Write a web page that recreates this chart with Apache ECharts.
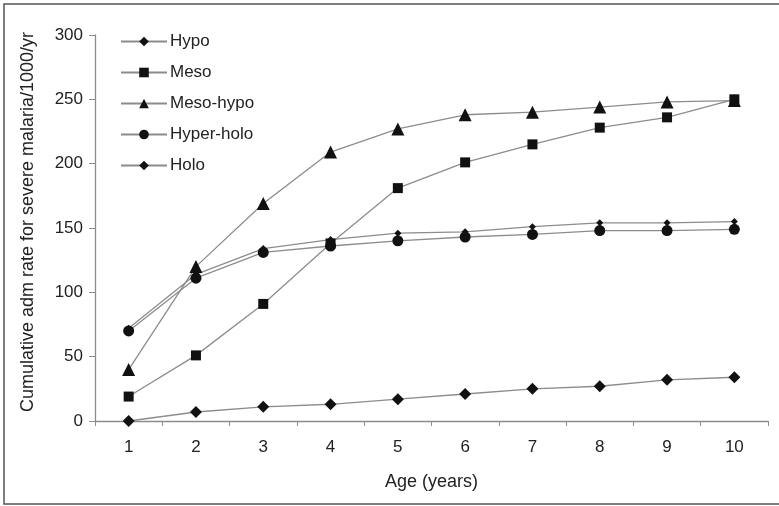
<!DOCTYPE html>
<html>
<head>
<meta charset="utf-8">
<script src="https://cdn.jsdelivr.net/npm/echarts@6/dist/echarts.min.js"></script>
<style>
  html, body { margin: 0; padding: 0; background: #fff; }
  #chart { width: 779px; height: 506px; }
</style>
</head>
<body>
<div id="chart"></div>
<script>
// Age categories (years)
const ages = ['1', '2', '3', '4', '5', '6', '7', '8', '9', '10'];

// Cumulative admission rate for severe malaria per 1000 per year, by endemicity
const hypo      = [0, 7, 11, 13, 17, 21, 25, 27, 32, 34];
const meso      = [19, 51, 91, 138, 181, 201, 215, 228, 236, 250];
const mesoHypo  = [40, 120, 169, 209, 227, 238, 240, 244, 248, 249];
const hyperHolo = [70, 111, 131, 136, 140, 143, 145, 148, 148, 149];
const holo      = [72, 114, 134, 141, 146, 147, 151, 154, 154, 155];

const font = 'Liberation Sans, Arial, sans-serif';
const lineGray = '#8c8c8c';

function makeSeries(name, data, symbol, size) {
  return {
    name: name,
    type: 'line',
    data: data,
    symbol: symbol,
    symbolSize: size,
    showAllSymbol: true,
    lineStyle: { color: lineGray, width: 1.3 },
    itemStyle: { color: '#111', borderWidth: 0 },
    emphasis: { disabled: true },
    animation: false
  };
}

const chart = echarts.init(document.getElementById('chart'));
chart.setOption({
  backgroundColor: '#fff',
  animation: false,
  graphic: [{
    type: 'rect',
    shape: { x: 4, y: 4, width: 790, height: 500 },
    style: { fill: 'none', stroke: '#555', lineWidth: 1.5 },
    silent: true
  }],
  grid: { left: 95, top: 35, right: 11, bottom: 85, containLabel: false },
  legend: {
    orient: 'vertical',
    left: 115,
    top: 28,
    itemWidth: 46,
    itemHeight: 12,
    itemGap: 14,
    textStyle: { fontFamily: font, fontSize: 17, color: '#222', padding: [0, 0, 0, -2] },
    data: ['Hypo', 'Meso', 'Meso-hypo', 'Hyper-holo', 'Holo']
  },
  xAxis: {
    type: 'category',
    data: ages,
    boundaryGap: true,
    name: 'Age (years)',
    nameLocation: 'middle',
    nameGap: 52,
    nameTextStyle: { fontFamily: font, fontSize: 18, color: '#222' },
    axisLine: { lineStyle: { color: lineGray, width: 1.3 } },
    axisTick: { show: true, length: 5, alignWithLabel: false, lineStyle: { color: lineGray } },
    axisLabel: { fontFamily: font, fontSize: 17, color: '#222', margin: 18 },
    splitLine: { show: false }
  },
  yAxis: {
    type: 'value',
    min: 0,
    max: 300,
    interval: 50,
    name: 'Cumulative adm rate for severe malaria/1000/yr',
    nameLocation: 'middle',
    nameGap: 58,
    nameTextStyle: { fontFamily: font, fontSize: 18, color: '#222', padding: [0, 0, 0, 12] },
    axisLine: { show: true, lineStyle: { color: lineGray, width: 1.3 } },
    axisTick: { show: true, length: 6, lineStyle: { color: lineGray } },
    axisLabel: { fontFamily: font, fontSize: 17, color: '#222', margin: 12 },
    splitLine: { show: false }
  },
  series: [
    makeSeries('Hypo', hypo, 'diamond', 12),
    makeSeries('Meso', meso, 'rect', 10),
    makeSeries('Meso-hypo', mesoHypo, 'triangle', 13),
    makeSeries('Hyper-holo', hyperHolo, 'circle', 11),
    makeSeries('Holo', holo, 'diamond', 7)
  ]
});
</script>
</body>
</html>
